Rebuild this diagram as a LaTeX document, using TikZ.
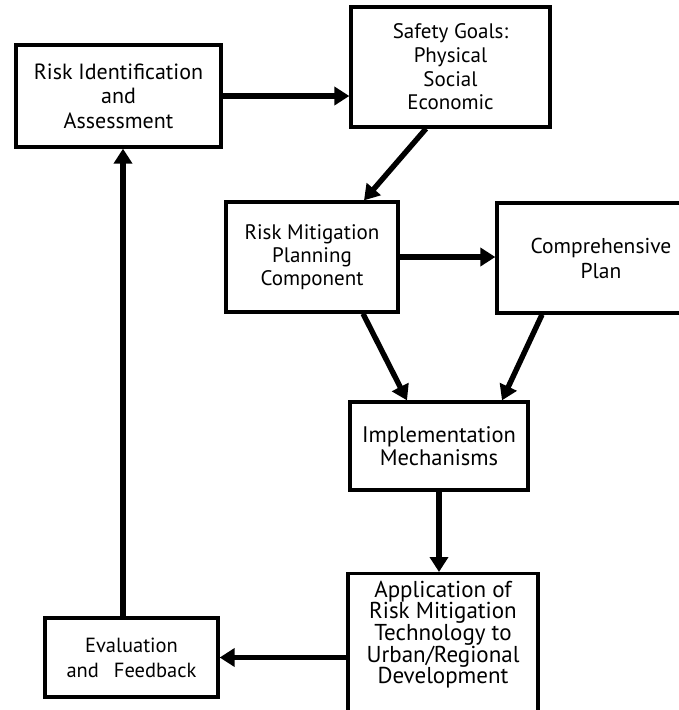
\documentclass[tikz,border=0pt]{standalone}
\usepackage{fontspec}
\setmainfont{PT Sans}
\usepackage{tikz}
\usetikzlibrary{arrows.meta}
\tikzset{block/.style = {rectangle, draw=black, line width=3.3pt, align=center, inner sep=3pt}}
\tikzset{arrow/.style = {line width=5.4pt, -{Triangle[length=15pt,width=18pt]}}}

\begin{document}
\begin{tikzpicture}[x=1pt, y=-1pt]
\useasboundingbox (0,0) rectangle (679,710);
\node [block, minimum width=205pt, minimum height=102pt, font=\fontsize{22}{24.5}\selectfont] (risk) at (118.5,96) {Risk Identification\\and\\Assessment};
\node [block, minimum width=199pt, minimum height=120pt, font=\fontsize{21}{23.7}\selectfont] (goals) at (450.5,67) {Safety Goals:\\Physical\\Social\\Economic};
\node [block, minimum width=172pt, minimum height=110pt, font=\fontsize{21}{23.3}\selectfont] (mitig) at (312,257) {Risk Mitigation\\Planning\\Component};
\node [block, minimum width=208pt, minimum height=110pt, font=\fontsize{21.5}{25}\selectfont] (plan) at (601,258) {Comprehensive\\Plan};
\node [block, minimum width=178pt, minimum height=88pt, font=\fontsize{22.5}{23.3}\selectfont] (impl) at (439,446) {Implementation\\Mechanisms};
% open-ended box: text sits at the top, sides run off the page
\node [block, minimum width=190pt, anchor=north, inner sep=3pt, font=\fontsize{23}{21.7}\selectfont] (app) at (443,572)
  {\parbox[c][146pt][t]{182pt}{\lineskiplimit=-8pt\vspace*{4pt}\centering Application of\\Risk Mitigation\\Technology to\\Urban/Regional\\Development}};
\node [block, minimum width=173pt, minimum height=79pt, font=\fontsize{20.5}{25}\selectfont] (eval) at (131.5,657.5) {Evaluation\\and\hspace{15pt}Feedback};

\draw [arrow] (risk.east) -- (risk.east -| goals.west);
\draw [arrow] ([xshift=-24.5pt]goals.south) -- ([xshift=52pt]mitig.north);
\draw [arrow] (mitig.east) -- (mitig.east -| plan.west);
\draw [arrow] ([xshift=51pt]mitig.south) -- ([xshift=-32pt]impl.north);
\draw [arrow] ([xshift=-59pt]plan.south) -- ([xshift=63pt]impl.north);
\draw [arrow] (impl.south) -- (impl.south |- app.north);
\draw [arrow] (app.west |- eval.east) -- (eval.east);
\draw [arrow] ([xshift=-8.5pt]eval.north) -- ([xshift=-8.5pt]eval.north |- risk.south);
\end{tikzpicture}
\end{document}
